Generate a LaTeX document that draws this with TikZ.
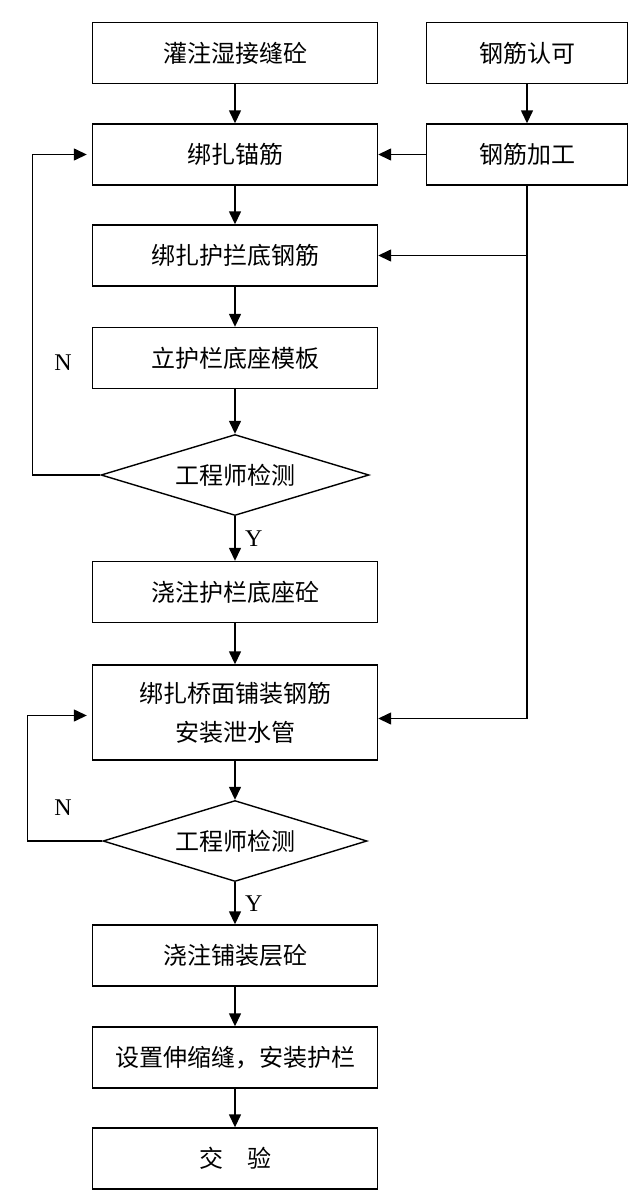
\documentclass[tikz,border=0pt]{standalone}
\usepackage{fontspec}
\setmainfont{Liberation Serif}
\newfontfamily\cjkfont{Noto Sans CJK SC}
\usetikzlibrary{arrows.meta, shapes.geometric, calc}

\begin{document}
\begin{tikzpicture}[x=1pt, y=-1pt,
    stepbox/.style={draw, line width=1.4pt, minimum width=285pt, minimum height=61pt,
        inner sep=0pt, align=center, font=\cjkfont\fontsize{24}{39}\selectfont},
    checkbox/.style={draw, diamond, line width=1.4pt, minimum width=268pt, minimum height=81pt,
        aspect=3.3, inner sep=0pt, font=\cjkfont\fontsize{24}{39}\selectfont},
    flow/.style={line width=1.4pt, -{Triangle[length=13pt, width=12pt]}},
    tag/.style={font=\fontsize{24}{28}\selectfont}]
    \useasboundingbox (0,0) rectangle (640,1202);

    % Main column
    \node[stepbox] (b1) at (235,53) {灌注湿接缝砼};
    \node[stepbox] (b2) at (235,154.5) {绑扎锚筋};
    \node[stepbox] (b3) at (235,255.5) {绑扎护拦底钢筋};
    \node[stepbox] (b4) at (235,358) {立护栏底座模板};
    \node[checkbox] (d1) at (235,475) {工程师检测};
    \node[stepbox] (b5) at (235,592) {浇注护栏底座砼};
    \node[stepbox, minimum height=95pt] (b6) at (235,712.5) {绑扎桥面铺装钢筋\\安装泄水管};
    \node[checkbox, minimum width=264pt] (d2) at (235,841) {工程师检测};
    \node[stepbox] (b7) at (235,955.5) {浇注铺装层砼};
    \node[stepbox] (b8) at (235,1057.5) {设置伸缩缝，安装护栏};
    \node[stepbox] (b9) at (235,1158.5) {交\quad 验};

    % Steel column
    \node[stepbox, minimum width=201pt] (r1) at (527,53) {钢筋认可};
    \node[stepbox, minimum width=201pt] (r2) at (527,154.5) {钢筋加工};

    % Straight flow
    \draw[flow] (b1) -- (b2);
    \draw[flow] (b2) -- (b3);
    \draw[flow] (b3) -- (b4);
    \draw[flow] (b4) -- (d1);
    \draw[flow] (d1) -- node[right, xshift=6pt, tag] (y1) {Y} (b5);
    \draw[flow] (b5) -- (b6);
    \draw[flow] (b6) -- (d2);
    \draw[flow] (d2) -- node[right, xshift=6pt, tag] (y2) {Y} (b7);
    \draw[flow] (b7) -- (b8);
    \draw[flow] (b8) -- (b9);

    % Steel supply
    \draw[flow] (r1) -- (r2);
    \draw[flow] (r2) -- (b2);
    \draw[line width=1.4pt] (r2.south) -- ($(r2.south |- b6.east)+(0,6)$) coordinate (t2);
    \draw[flow] (r2.south |- b3.east) -- (b3.east);
    \draw[flow] (t2) -- (t2 -| b6.east);

    % Rework loops
    \draw[flow] (d1.west) -- ++(-68,0) |- ($(b2.west)+(-5,0)$);
    \node[tag] (n1) at (63,363) {N};
    \draw[flow] (d2.west) -- ++(-75,0) |- ($(b6.west)+(-5,3)$);
    \node[tag] (n2) at (63,808) {N};
\end{tikzpicture}
\end{document}
